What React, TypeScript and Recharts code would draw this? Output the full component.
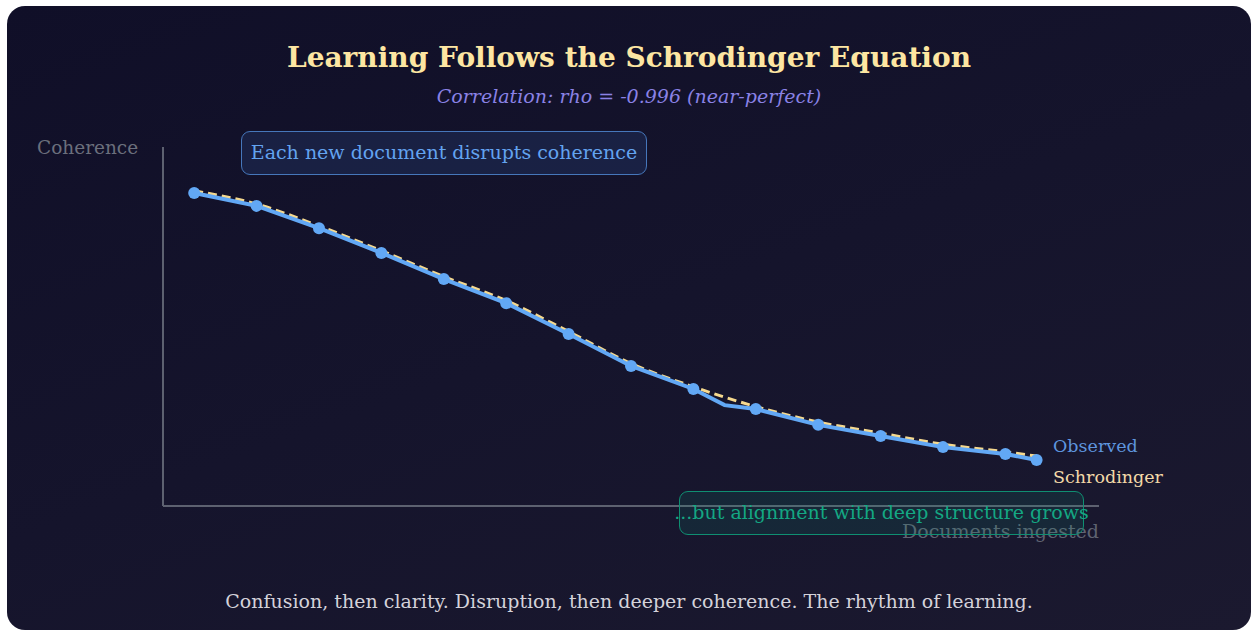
import { LineChart, Line, XAxis, YAxis, ReferenceLine } from 'recharts';

// documents ingested (x) and coherence readings
const docs = [0, 1, 2, 3, 4, 5, 6, 7, 8, 8.5, 9, 10, 11, 12, 13, 13.5];
const observed = [0.872, 0.836, 0.774, 0.705, 0.632, 0.565, 0.479, 0.39, 0.326, 0.281, 0.27, 0.226, 0.195, 0.164, 0.145, 0.128];
const schrodinger = [0.878, 0.841, 0.780, 0.711, 0.639, 0.572, 0.486, 0.397, 0.332, null, 0.277, 0.234, 0.203, 0.172, 0.151, 0.139];
const hasMarker = [true, true, true, true, true, true, true, true, true, false, true, true, true, true, true, true];

const title = 'Learning Follows the Schrodinger Equation';
const subtitle = 'Correlation: rho = -0.996 (near-perfect)';
const footer = 'Confusion, then clarity. Disruption, then deeper coherence. The rhythm of learning.';
const noteTop = 'Each new document disrupts coherence';
const noteBottom = '...but alignment with deep structure grows';

const data = docs.map((d, i) => ({
  docs: d,
  observed: observed[i],
  schrodinger: schrodinger[i],
  marker: hasMarker[i],
}));

const FONT = '"DejaVu Serif", serif';
const BLUE = '#62a8f5';
const AXIS = '#5d6170';

const ObservedDot = (props: any) => {
  const { cx, cy, payload, index } = props;
  if (!payload || !payload.marker) return <g key={`d-${index}`} />;
  return <circle key={`d-${index}`} cx={cx} cy={cy} r={6} fill={BLUE} stroke="none" />;
};

export default function App() {
  return (
    <div style={{ position: 'absolute', left: 0, top: 0, width: 1253, height: 630, background: '#ffffff', overflow: 'hidden' }}>
      <div
        style={{
          position: 'absolute',
          left: 7,
          top: 6,
          width: 1244,
          height: 624,
          borderRadius: 18,
          background: 'linear-gradient(160deg, #100f28 0%, #15142c 50%, #1b192f 100%)',
          fontFamily: FONT,
          overflow: 'hidden',
        }}
      >
        <div style={{ position: 'absolute', left: 0, width: 1244, top: 36, lineHeight: '32px', textAlign: 'center', fontSize: 28, fontWeight: 'bold', color: '#fde6a2' }}>
          {title}
        </div>
        <div style={{ position: 'absolute', left: 0, width: 1244, top: 79, lineHeight: '22px', textAlign: 'center', fontSize: 19, fontStyle: 'italic', color: '#8a82e6' }}>
          {subtitle}
        </div>
        <div style={{ position: 'absolute', left: 30, top: 131, lineHeight: '22px', fontSize: 18.5, color: '#6b6f7c' }}>Coherence</div>

        <div style={{ position: 'absolute', left: 0, top: 0 }}>
          <LineChart width={1244} height={624} data={data} margin={{ top: 141, right: 152, bottom: 124, left: 156 }}>
            <XAxis dataKey="docs" type="number" domain={[-0.5, 14.5]} hide />
            <YAxis type="number" domain={[0, 1]} hide />
            <ReferenceLine y={0} stroke={AXIS} strokeWidth={2} ifOverflow="visible" />
            <ReferenceLine x={-0.5} stroke={AXIS} strokeWidth={2} ifOverflow="visible" />
            <Line
              dataKey="schrodinger"
              type="monotone"
              stroke="#f6d98e"
              strokeWidth={3}
              strokeDasharray="9 5"
              dot={false}
              connectNulls
              isAnimationActive={false}
            />
            <Line
              dataKey="observed"
              type="linear"
              stroke={BLUE}
              strokeWidth={4}
              dot={ObservedDot}
              activeDot={false}
              isAnimationActive={false}
            />
          </LineChart>
        </div>

        <div
          style={{
            position: 'absolute',
            left: 234,
            top: 125,
            width: 406,
            height: 44,
            boxSizing: 'border-box',
            border: '1.5px solid #4677bb',
            borderRadius: 9,
            background: 'rgba(60, 110, 200, 0.16)',
            color: '#63a3f0',
            fontSize: 19,
            lineHeight: '41px',
            display: 'flex',
            justifyContent: 'center',
            whiteSpace: 'nowrap',
          }}
        >
          {noteTop}
        </div>

        <div style={{ position: 'absolute', right: 1244 - 1092, top: 514, lineHeight: '22px', fontSize: 19, color: '#5f6372', whiteSpace: 'nowrap' }}>
          Documents ingested
        </div>
        <div style={{ position: 'absolute', left: 1046, top: 429, lineHeight: '22px', fontSize: 17.5, color: '#5e95de' }}>Observed</div>
        <div style={{ position: 'absolute', left: 1046, top: 460, lineHeight: '22px', fontSize: 17.5, color: '#f3d9a8' }}>Schrodinger</div>

        <div
          style={{
            position: 'absolute',
            left: 672,
            top: 485,
            width: 405,
            height: 44,
            boxSizing: 'border-box',
            border: '1.5px solid #0f8f72',
            borderRadius: 9,
            background: 'rgba(16, 150, 120, 0.14)',
            color: '#14a783',
            fontSize: 19,
            lineHeight: '41px',
            display: 'flex',
            justifyContent: 'center',
            whiteSpace: 'nowrap',
          }}
        >
          {noteBottom}
        </div>

        <div style={{ position: 'absolute', left: 0, width: 1244, top: 584, lineHeight: '22px', textAlign: 'center', fontSize: 19, color: '#d4d2da' }}>
          {footer}
        </div>
      </div>
    </div>
  );
}
